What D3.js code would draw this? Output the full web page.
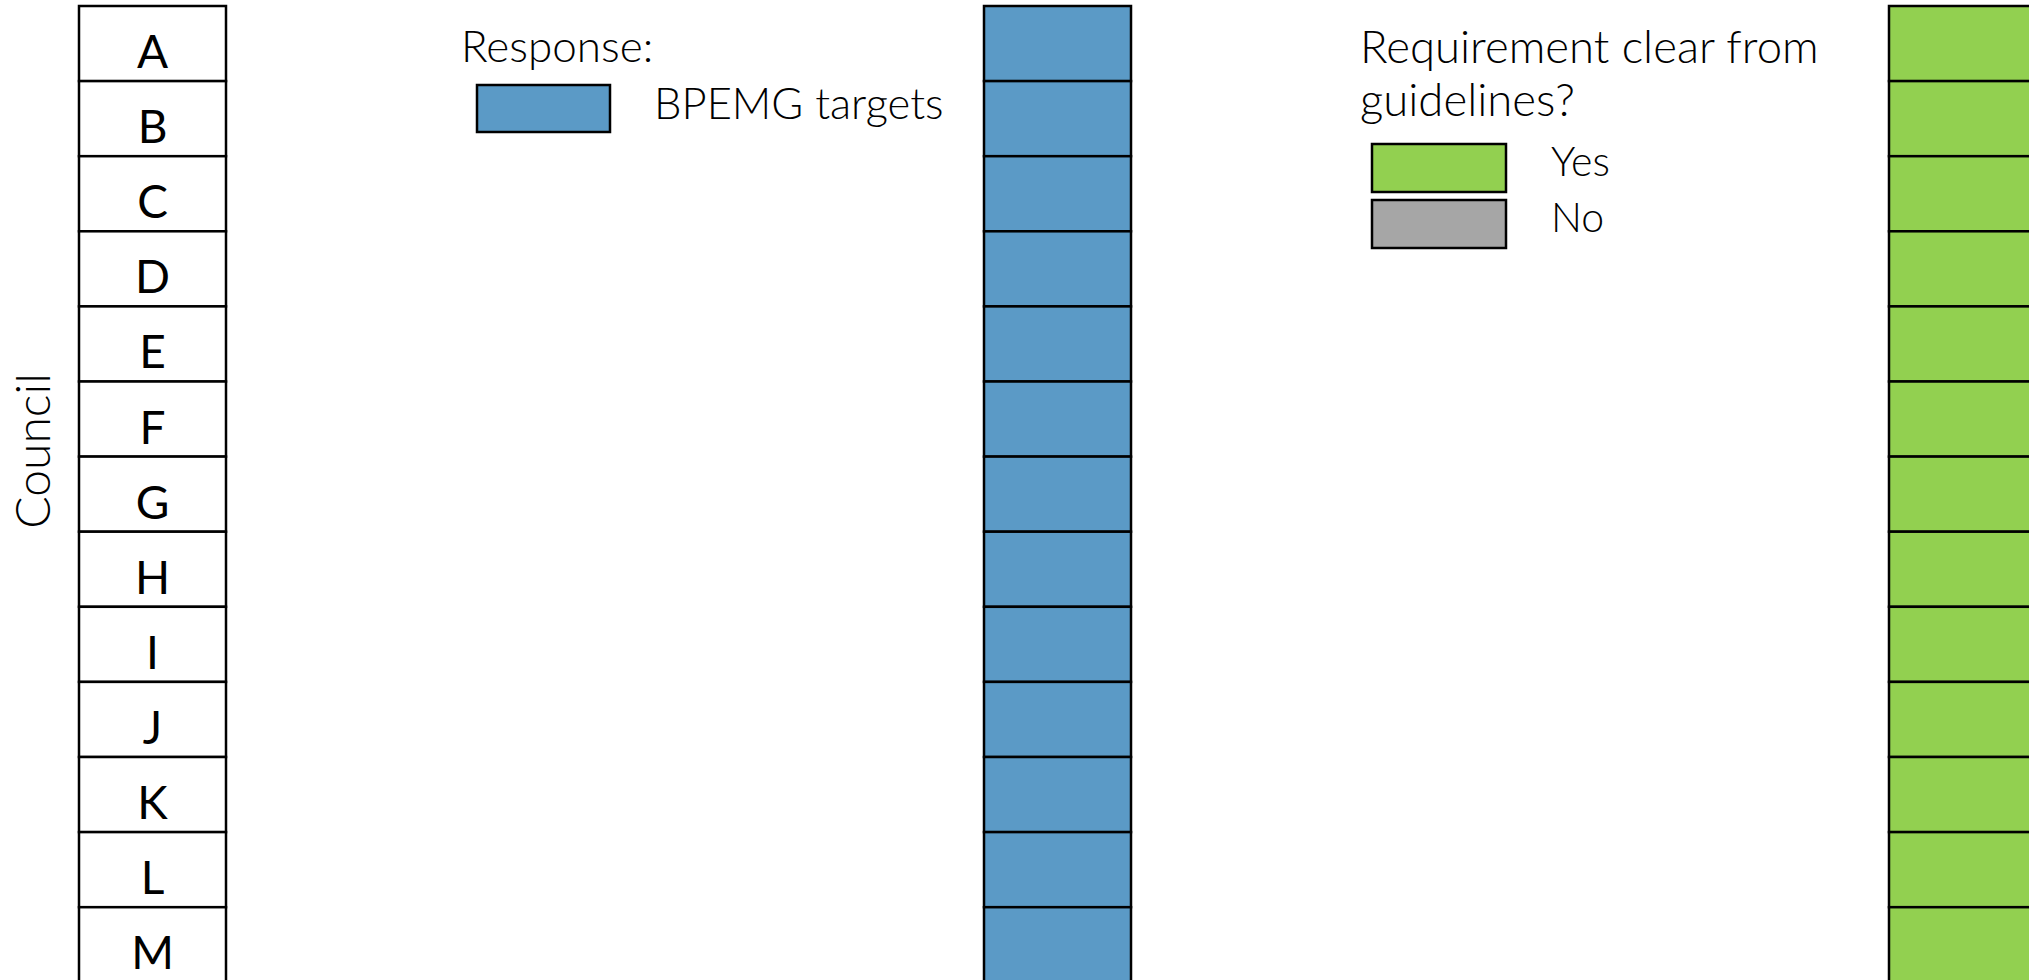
<!DOCTYPE html>
<html lang="en">
<head>
    <meta charset="UTF-8">
    <title>Council responses</title>
    <style>
        body { margin: 0; overflow: hidden; background: #fff; }
        text { font-family: Lato, "Noto Sans", sans-serif; fill: #000; }
        .light { font-weight: 300; }
    </style>
</head>
<body>
<script src="https://cdn.jsdelivr.net/npm/d3@7"></script>
<script>
    // data
    const councils = ["A", "B", "C", "D", "E", "F", "G", "H", "I", "J", "K", "L", "M"];
    const responses = ["BPEMG targets", "BPEMG targets", "BPEMG targets", "BPEMG targets", "BPEMG targets",
        "BPEMG targets", "BPEMG targets", "BPEMG targets", "BPEMG targets", "BPEMG targets",
        "BPEMG targets", "BPEMG targets", "BPEMG targets"];
    const clearFromGuidelines = ["Yes", "Yes", "Yes", "Yes", "Yes", "Yes", "Yes", "Yes", "Yes", "Yes",
        "Yes", "Yes", "Yes"];
    const columns = ["council", "response", "clear"];
    const responseTypes = ["BPEMG targets"];
    const clearTypes = ["Yes", "No"];

    const width = 2029, height = 980;
    const svg = d3.select("body").append("svg")
        .attr("width", width)
        .attr("height", height);

    const y = d3.scaleBand().domain(councils).range([6, 6 + 13 * 75.1]);
    const x = d3.scalePoint().domain(columns).range([152.5, 1962.5]);
    const colW = 147;

    const responseColor = d3.scaleOrdinal().domain(responseTypes).range(["#5b9ac6"]);
    const clearColor = d3.scaleOrdinal().domain(clearTypes).range(["#92d050", "#a6a6a6"]);

    const rows = councils.map((c, i) => ({council: c, response: responses[i], clear: clearFromGuidelines[i]}));

    function column(key, fill) {
        const g = svg.append("g");
        g.selectAll("rect")
            .data(rows)
            .join("rect")
            .attr("x", x(key) - colW / 2)
            .attr("y", d => y(d.council))
            .attr("width", colW)
            .attr("height", y.bandwidth())
            .attr("fill", fill)
            .attr("stroke", "#000")
            .attr("stroke-width", 2.5);
        return g;
    }

    column("council", () => "#fff").selectAll("text")
        .data(rows)
        .join("text")
        .attr("x", x("council"))
        .attr("y", d => y(d.council) + 62)
        .attr("text-anchor", "middle")
        .attr("font-size", 46)
        .text(d => d.council);

    column("response", d => responseColor(d.response));
    column("clear", d => clearColor(d.clear));

    // axis title
    svg.append("text")
        .attr("class", "light")
        .attr("transform", "translate(50,451) rotate(-90)")
        .attr("text-anchor", "middle")
        .attr("font-size", 48)
        .text("Council");

    // legend: response
    const lg1 = svg.append("g");
    lg1.append("text").attr("class", "light")
        .attr("x", 461).attr("y", 62).attr("font-size", 44)
        .text("Response:");
    lg1.selectAll("g.item")
        .data(responseTypes)
        .join("g")
        .attr("class", "item")
        .attr("transform", (d, i) => `translate(477,${85 + i * 56})`)
        .call(g => {
            g.append("rect").attr("width", 133).attr("height", 47)
                .attr("fill", d => responseColor(d)).attr("stroke", "#000").attr("stroke-width", 2.5);
            g.append("text").attr("class", "light")
                .attr("x", 177).attr("y", 34).attr("font-size", 43.5)
                .text(d => d);
        });

    // legend: requirement clear
    const lg2 = svg.append("g");
    lg2.append("text").attr("class", "light")
        .attr("x", 1360).attr("y", 63).attr("font-size", 45.5)
        .text("Requirement clear from");
    lg2.append("text").attr("class", "light")
        .attr("x", 1360).attr("y", 116).attr("font-size", 45.5)
        .text("guidelines?");
    lg2.selectAll("g.item")
        .data(clearTypes)
        .join("g")
        .attr("class", "item")
        .attr("transform", (d, i) => `translate(1372,${144 + i * 56})`)
        .call(g => {
            g.append("rect").attr("width", 134).attr("height", 48)
                .attr("fill", d => clearColor(d)).attr("stroke", "#000").attr("stroke-width", 2.5);
            g.append("text").attr("class", "light")
                .attr("x", 179).attr("y", 32).attr("font-size", 41)
                .text(d => d);
        });
</script>
</body>
</html>
